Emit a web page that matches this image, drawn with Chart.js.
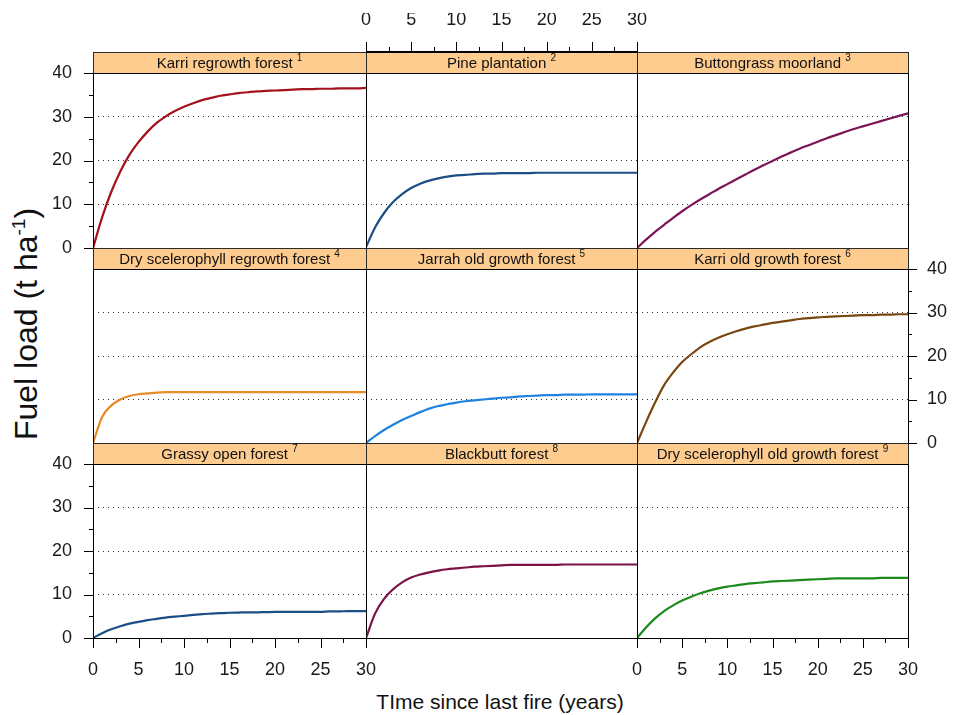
<!DOCTYPE html>
<html>
<head>
<meta charset="utf-8">
<title>Fuel load since last fire</title>
<script src="https://cdn.jsdelivr.net/npm/chart.js@4.4.0/dist/chart.umd.min.js"></script>
<style>
  body { margin: 0; background: #fff; }
  #wrap { position: relative; width: 954px; height: 715px; font-family: "Liberation Sans", Arial, sans-serif; color: #111; }
  #wrap canvas { position: absolute; left: 0; top: 0; }
  .ytitle { position: absolute; left: 26px; top: 324px; transform: translate(-50%, -50%) rotate(-90deg); font-size: 32px; white-space: nowrap; }
  .xtitle { position: absolute; left: 500px; top: 702px; transform: translate(-50%, -50%); font-size: 21px; white-space: nowrap; }
  .ytitle sup { font-size: 19px; }
</style>
</head>
<body>
<div id="wrap">
  <div class="ytitle">Fuel load (t ha<sup>-1</sup>)</div>
  <div class="xtitle">TIme since last fire (years)</div>
</div>
<script>
(function () {
    "use strict";

    // Data (t/ha at each year since fire)
    const years = [0, 1, 2, 3, 4, 5, 6, 7, 8, 9, 10, 11, 12, 13, 14, 15, 16, 17, 18, 19, 20, 21, 22, 23, 24, 25, 26, 27, 28, 29, 30];

    const karriRegrowth = [0, 7.0, 12.8, 17.5, 21.3, 24.2, 26.6, 28.6, 30.1, 31.3, 32.3, 33.1, 33.8, 34.3, 34.8, 35.1, 35.4, 35.6, 35.8, 35.9, 36.0, 36.1, 36.2, 36.3, 36.3, 36.4, 36.4, 36.5, 36.5, 36.5, 36.6];
    const pinePlantation = [0.2, 4.7, 8.0, 10.5, 12.3, 13.7, 14.7, 15.4, 15.9, 16.3, 16.6, 16.7, 16.9, 17.0, 17.0, 17.1, 17.1, 17.1, 17.1, 17.2, 17.2, 17.2, 17.2, 17.2, 17.2, 17.2, 17.2, 17.2, 17.2, 17.2, 17.2];
    const buttongrassMoorland = [0, 1.9, 3.7, 5.3, 6.9, 8.4, 9.8, 11.1, 12.3, 13.5, 14.6, 15.7, 16.8, 17.9, 18.9, 19.9, 20.9, 21.8, 22.7, 23.5, 24.3, 25.1, 25.8, 26.5, 27.2, 27.8, 28.4, 29.0, 29.6, 30.2, 30.8];
    const dryScleroRegrowth = [0, 6.0, 8.6, 10.0, 10.8, 11.2, 11.4, 11.6, 11.7, 11.7, 11.7, 11.7, 11.7, 11.7, 11.7, 11.7, 11.7, 11.7, 11.7, 11.7, 11.7, 11.7, 11.7, 11.7, 11.7, 11.7, 11.7, 11.7, 11.7, 11.7, 11.7];
    const jarrahOldGrowth = [0, 1.6, 3.0, 4.2, 5.3, 6.2, 7.1, 7.9, 8.5, 8.9, 9.3, 9.6, 9.8, 10.0, 10.2, 10.4, 10.5, 10.7, 10.8, 10.9, 11.0, 11.0, 11.1, 11.1, 11.1, 11.2, 11.2, 11.2, 11.2, 11.2, 11.2];
    const karriOldGrowth = [0, 4.8, 9.3, 13.3, 16.2, 18.6, 20.4, 22.0, 23.2, 24.2, 25.0, 25.7, 26.3, 26.8, 27.2, 27.6, 27.9, 28.2, 28.5, 28.7, 28.9, 29.0, 29.1, 29.2, 29.3, 29.4, 29.4, 29.5, 29.5, 29.6, 29.6];
    const grassyOpenForest = [0, 1.1, 2.0, 2.7, 3.3, 3.7, 4.1, 4.4, 4.7, 4.9, 5.1, 5.3, 5.5, 5.6, 5.7, 5.8, 5.85, 5.9, 5.9, 5.95, 6.0, 6.0, 6.0, 6.0, 6.0, 6.0, 6.1, 6.1, 6.2, 6.2, 6.2];
    const blackbuttForest = [0, 5.6, 9.0, 11.2, 12.8, 13.9, 14.6, 15.1, 15.5, 15.8, 16.0, 16.2, 16.4, 16.5, 16.6, 16.7, 16.8, 16.8, 16.8, 16.8, 16.8, 16.8, 16.9, 16.9, 16.9, 16.9, 16.9, 16.9, 16.9, 16.9, 16.9];
    const dryScleroOldGrowth = [0, 2.4, 4.5, 6.2, 7.5, 8.6, 9.5, 10.3, 10.9, 11.4, 11.8, 12.1, 12.4, 12.6, 12.8, 13.0, 13.1, 13.2, 13.3, 13.4, 13.5, 13.6, 13.7, 13.7, 13.7, 13.7, 13.7, 13.8, 13.8, 13.8, 13.8];

    const panelNames = [
        'Karri regrowth forest', 'Pine plantation', 'Buttongrass moorland',
        'Dry scelerophyll regrowth forest', 'Jarrah old growth forest', 'Karri old growth forest',
        'Grassy open forest', 'Blackbutt forest', 'Dry scelerophyll old growth forest'
    ];
    const panelNotes = ['1', '2', '3', '4', '5', '6', '7', '8', '9'];
    const lineColors = ['#A3121C', '#1B4E86', '#7A1456', '#E58A26', '#1E82E0', '#7A4612', '#1B4E86', '#7A1244', '#1C8A1C'];
    const seriesValues = [karriRegrowth, pinePlantation, buttongrassMoorland, dryScleroRegrowth, jarrahOldGrowth, karriOldGrowth, grassyOpenForest, blackbuttForest, dryScleroOldGrowth];

    // Which panels carry the shared axes (lattice style, alternating)
    const yAxisSide = ['left', null, null, null, null, 'right', 'left', null, null];
    const xAxisSide = [null, 'top', null, null, null, null, 'bottom', null, 'bottom'];

    // Page geometry
    const W = 954, H = 715;
    const colLeft = [93, 366, 637];
    const colRight = [366, 637, 908];
    const rowTop = [73, 269, 464];
    const rowBottom = [248, 443, 638];
    const STRIP_H = 21;
    const Y_AXIS_W = 40, X_TOP_H = 60, X_BOT_H = 50;

    Chart.defaults.font.family = '"Liberation Sans", Arial, sans-serif';
    Chart.defaults.color = '#1a1a1a';

    const crisp = v => Math.round(v) + 0.5;

    // Strip, panel frame and tick marks
    const panelFrame = {
        id: 'panelFrame',
        afterDraw(chart, args, opts) {
            const { ctx, chartArea: a, scales: { x, y } } = chart;
            const left = Math.round(a.left), right = Math.round(a.right);
            const top = Math.round(a.top), bottom = Math.round(a.bottom);
            const stripTop = top - STRIP_H;
            ctx.save();

            ctx.fillStyle = '#FFCC90';
            ctx.fillRect(left, stripTop, right - left, STRIP_H);
            ctx.strokeStyle = '#2a2a2a';
            ctx.lineWidth = 1;
            ctx.strokeRect(left + 0.5, stripTop + 0.5, right - left, STRIP_H);
            ctx.strokeStyle = '#000';
            ctx.strokeRect(left + 0.5, top + 0.5, right - left, bottom - top);

            // strip label with superscript note
            ctx.fillStyle = '#111';
            ctx.textBaseline = 'alphabetic';
            ctx.font = '15px "Liberation Sans", Arial, sans-serif';
            const main = opts.name + ' ';
            const w1 = ctx.measureText(main).width;
            ctx.font = '10px "Liberation Sans", Arial, sans-serif';
            const w2 = ctx.measureText(opts.note).width;
            const tx = (left + right) / 2 - (w1 + w2) / 2;
            ctx.font = '15px "Liberation Sans", Arial, sans-serif';
            ctx.textAlign = 'left';
            ctx.fillText(main, tx, stripTop + 16);
            ctx.font = '10px "Liberation Sans", Arial, sans-serif';
            ctx.fillText(opts.note, tx + w1, stripTop + 9);

            ctx.strokeStyle = '#000';
            ctx.lineWidth = 1;
            ctx.beginPath();
            if (opts.ySide) {
                const x0 = opts.ySide === 'left' ? left : right;
                const dir = opts.ySide === 'left' ? -1 : 1;
                y.ticks.forEach(t => {
                    const py = crisp(y.getPixelForValue(t.value));
                    const len = t.value % 10 === 0 ? 9 : 4;
                    ctx.moveTo(x0, py);
                    ctx.lineTo(x0 + dir * len, py);
                });
            }
            if (opts.xSide) {
                const y0 = opts.xSide === 'top' ? stripTop : bottom;
                const dir = opts.xSide === 'top' ? -1 : 1;
                x.ticks.forEach(t => {
                    const px = crisp(x.getPixelForValue(t.value));
                    const len = t.value % 5 === 0 ? 10 : 5;
                    ctx.moveTo(px, y0);
                    ctx.lineTo(px, y0 + dir * len);
                });
            }
            ctx.stroke();

            if (opts.xSide === 'top') {
                ctx.lineWidth = 2;
                ctx.beginPath();
                ctx.moveTo(left, stripTop);
                ctx.lineTo(right + 1, stripTop);
                ctx.stroke();
            }
            ctx.restore();
        }
    };

    const wrap = document.getElementById('wrap');

    seriesValues.forEach((vals, i) => {
        const col = i % 3, row = Math.floor(i / 3);
        const ySide = yAxisSide[i], xSide = xAxisSide[i];

        const canvas = document.createElement('canvas');
        canvas.width = W;
        canvas.height = H;
        wrap.appendChild(canvas);

        new Chart(canvas, {
            type: 'line',
            data: {
                datasets: [{
                    data: years.map((t, k) => ({ x: t, y: vals[k] })),
                    borderColor: lineColors[i],
                    borderWidth: 2.2,
                    pointRadius: 0,
                    cubicInterpolationMode: 'monotone',
                    fill: false
                }]
            },
            options: {
                responsive: false,
                animation: false,
                devicePixelRatio: 1,
                events: [],
                layout: {
                    padding: {
                        left: colLeft[col] - (ySide === 'left' ? Y_AXIS_W : 0),
                        right: W - colRight[col] - (ySide === 'right' ? Y_AXIS_W : 0),
                        top: rowTop[row] - (xSide === 'top' ? X_TOP_H : 0),
                        bottom: H - rowBottom[row] - (xSide === 'bottom' ? X_BOT_H : 0)
                    }
                },
                plugins: {
                    legend: { display: false },
                    tooltip: { enabled: false },
                    panelFrame: { name: panelNames[i], note: panelNotes[i], ySide: ySide, xSide: xSide }
                },
                scales: {
                    x: {
                        type: 'linear',
                        position: xSide || 'bottom',
                        display: !!xSide,
                        min: 0,
                        max: 30,
                        grid: { display: false, drawTicks: false },
                        border: { display: false },
                        ticks: {
                            stepSize: 2.5,
                            autoSkip: false,
                            maxRotation: 0,
                            padding: xSide === 'top' ? 42 : 21,
                            font: { size: 18 },
                            callback: v => (v % 5 === 0 ? v : '')
                        },
                        afterFit: s => {
                            s.height = xSide === 'top' ? X_TOP_H : (xSide === 'bottom' ? X_BOT_H : 0);
                            s.paddingLeft = 0;
                            s.paddingRight = 0;
                        }
                    },
                    y: {
                        type: 'linear',
                        position: ySide || 'left',
                        min: 0,
                        max: 40,
                        grid: {
                            drawTicks: false,
                            lineWidth: 1,
                            color: c => (c.tick && c.tick.value % 10 === 0 && c.tick.value > 0 && c.tick.value < 40) ? '#333' : 'rgba(0,0,0,0)'
                        },
                        border: { display: false, dash: [1, 4] },
                        ticks: {
                            display: !!ySide,
                            stepSize: 5,
                            autoSkip: false,
                            padding: ySide === 'right' ? 19 : 21,
                            font: { size: 18 },
                            callback: v => (v % 10 === 0 ? v : '')
                        },
                        afterFit: s => {
                            s.width = ySide ? Y_AXIS_W : 0;
                            s.paddingTop = 0;
                            s.paddingBottom = 0;
                        }
                    }
                }
            },
            plugins: [panelFrame]
        });
    });
})();
</script>
</body>
</html>
